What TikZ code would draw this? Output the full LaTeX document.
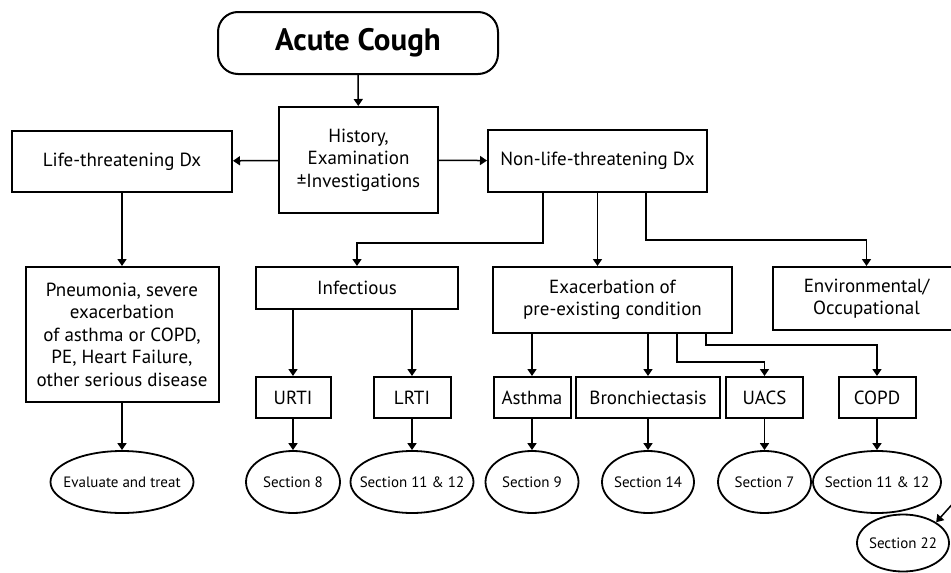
\documentclass[tikz,border=0pt]{standalone}
\usepackage{fontspec}
\setmainfont{PT Sans}
\usepackage{tikz}
\usetikzlibrary{positioning, arrows.meta, shapes.geometric}

\tikzset{
  box/.style={draw, line width=2pt, inner sep=0pt, align=center,
    font=\fontsize{19}{22.5}\selectfont},
  oval/.style={draw, ellipse, line width=1.8pt, inner xsep=-20pt, inner ysep=0pt,
    minimum height=62pt, font=\fontsize{15}{17}\selectfont},
  conn/.style={line width=1.5pt, -{Triangle[length=7pt, width=9pt]}},
}

\begin{document}
\begin{tikzpicture}[x=1pt, y=-1pt]
\useasboundingbox (0,0) rectangle (951,573);
\clip (0,0) rectangle (951,573);

\node[box, rounded corners=20pt, minimum width=280pt, minimum height=62pt,
  font=\fontsize{31}{34}\selectfont\bfseries] (cough) at (358,43) {Acute Cough};
\node[box, minimum width=159pt, minimum height=106pt] (hist) at (358.5,160)
  {History,\\Examination\\±Investigations};
\node[box, minimum width=220pt, minimum height=61pt] (life) at (122,161.5) {Life-threatening Dx};
\node[box, minimum width=219pt, minimum height=62pt] (nonlife) at (597.5,161) {Non-life-threatening Dx};

\node[box, minimum width=193pt, minimum height=135pt] (pneu) at (122,334.5)
  {Pneumonia, severe\\exacerbation\\of asthma or COPD,\\PE, Heart Failure,\\other serious disease};
\node[oval, minimum width=143pt] (eval) at (122,482) {Evaluate and treat};

\node[box, minimum width=202pt, minimum height=42pt] (infect) at (357,288) {Infectious};
\node[box, minimum width=239pt, minimum height=66pt] (exac) at (612.5,300)
  {Exacerbation of\\pre-existing condition};
\node[box, minimum width=187pt, minimum height=63pt] (env) at (866.5,298.5)
  {Environmental/\\Occupational};

\node[box, minimum width=75pt, minimum height=41pt] (urti) at (293,397.5) {URTI};
\node[box, minimum width=77pt, minimum height=41pt] (lrti) at (412,397.5) {LRTI};
\node[box, minimum width=77pt, minimum height=41pt] (asthma) at (532,397.5) {Asthma};
\node[box, minimum width=144pt, minimum height=41pt] (bronch) at (648,397.5) {Bronchiectasis};
\node[box, minimum width=77pt, minimum height=41pt] (uacs) at (764.5,397.5) {UACS};
\node[box, minimum width=77pt, minimum height=41pt] (copd) at (877,397.5) {COPD};

\node[oval, minimum width=94pt] (s8) at (293,482) {Section 8};
\node[oval, minimum width=123pt] (s11a) at (412,482) {Section 11 \& 12};
\node[oval, minimum width=93pt] (s9) at (532,482) {Section 9};
\node[oval, minimum width=92pt] (s14) at (648,482) {Section 14};
\node[oval, minimum width=93pt] (s7) at (764.5,482) {Section 7};
\node[oval, minimum width=128pt] (s11b) at (877,482) {Section 11 \& 12};
\node[oval, minimum width=92pt, minimum height=57pt] (s22) at (903,543) {Section 22};
\coordinate (edge) at (956,500);

\draw[conn] (cough) -- (hist);
\draw[conn] (hist) -- (life);
\draw[conn] (hist) -- (nonlife);
\draw[conn] (life) -- (pneu);
\draw[conn] (pneu) -- (eval);

\draw[conn] ([xshift=-54.5pt]nonlife.south) -- ++(0,50) -| (infect.north);
\draw[conn] (nonlife.south) -- (nonlife.south |- exac.north);
\draw[conn] ([xshift=48.5pt]nonlife.south) -- ++(0,47) -| (env.north);

\draw[conn] (urti.north |- infect.south) -- (urti.north);
\draw[conn] (lrti.north |- infect.south) -- (lrti.north);
\draw[conn] (asthma.north |- exac.south) -- (asthma.north);
\draw[conn] (bronch.north |- exac.south) -- (bronch.north);
\draw[conn] ([xshift=64.5pt]exac.south) -- ++(0,28) -| (uacs.north);
\draw[conn] ([xshift=93.5pt]exac.south) -- ++(0,11) -| (copd.north);

\foreach \b/\e in {urti/s8, lrti/s11a, asthma/s9, bronch/s14, uacs/s7, copd/s11b}
  \draw[conn] (\b) -- (\e);
\draw[conn] (edge) -- (s22.north east);
\end{tikzpicture}
\end{document}
